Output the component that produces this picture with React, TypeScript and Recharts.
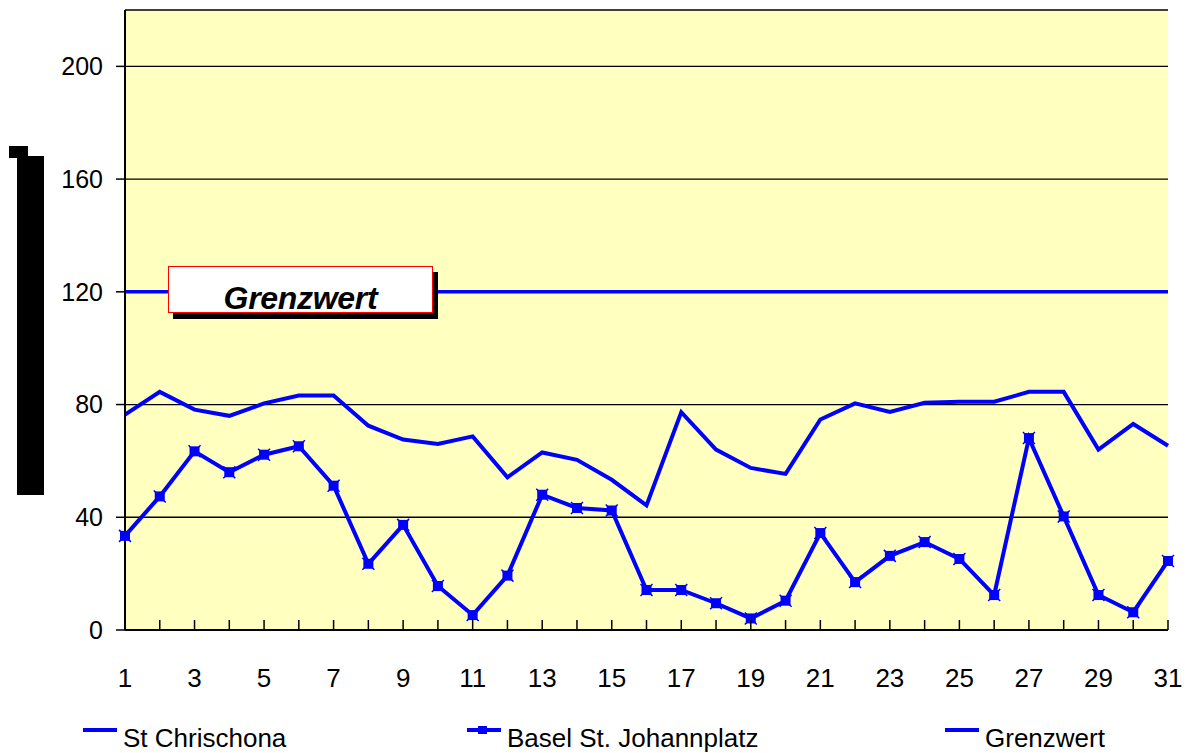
import React from "react";
import { LineChart, Line, XAxis, YAxis, CartesianGrid, ReferenceLine } from "recharts";

const days = [1, 2, 3, 4, 5, 6, 7, 8, 9, 10, 11, 12, 13, 14, 15, 16, 17, 18, 19, 20, 21, 22, 23, 24, 25, 26, 27, 28, 29, 30, 31];
const chrischona = [76.4, 84.5, 78.2, 76, 80.4, 83.2, 83.2, 72.5, 67.6, 66, 68.7, 54.2, 63, 60.4, 53.3, 44.2, 77.3, 64, 57.5, 55.4, 74.7, 80.4, 77.4, 80.6, 81, 81, 84.5, 84.5, 64, 73.1, 65.4];
const johannplatz = [33.4, 47.4, 63.4, 56, 62.2, 65.2, 51.2, 23.5, 37.3, 15.6, 5.3, 19.3, 48, 43.3, 42.4, 14.2, 14.2, 9.5, 4.1, 10.4, 34.4, 17, 26.3, 31.2, 25.2, 12.4, 68.1, 40.3, 12.4, 6.3, 24.5];
const grenzwert = 120;
const yTicks = [0, 40, 80, 120, 160, 200];
const legendItems = ["St Chrischona", "Basel St. Johannplatz", "Grenzwert"];

const data = days.map((d, i) => ({ day: d, chrischona: chrischona[i], johann: johannplatz[i] }));

const BLUE = "#0000FF";
const FONT = "'Liberation Sans', Arial, sans-serif";

const XTick = (props: any) => {
    const { x, y, payload } = props;
    const label = payload.value % 2 === 1 ? String(payload.value) : "";
    return (
        <g>
            <line x1={x} x2={x} y1={y} y2={y - 10} stroke="#000" strokeWidth={1.5} />
            {label && (
                <text x={x} y={y + 57} textAnchor="middle" fontSize={26} fontFamily={FONT} fill="#000">
                    {label}
                </text>
            )}
        </g>
    );
};

const StarDot = (props: any) => {
    const { cx, cy } = props;
    if (cx == null || cy == null) return null;
    return (
        <g>
            <rect x={cx - 5} y={cy - 5} width={10} height={10} fill={BLUE} />
            <line x1={cx - 6} y1={cy - 6} x2={cx + 6} y2={cy + 6} stroke={BLUE} strokeWidth={1.5} />
            <line x1={cx - 6} y1={cy + 6} x2={cx + 6} y2={cy - 6} stroke={BLUE} strokeWidth={1.5} />
        </g>
    );
};

const legendLeft = [83, 467, 945];

export default function App() {
    return (
        <div style={{ position: "absolute", left: 0, top: 0, width: 1188, height: 753, background: "#fff", fontFamily: FONT }}>
            <LineChart width={1188} height={753} data={data} margin={{ top: 10, right: 20, left: 0, bottom: 83 }}>
                <CartesianGrid vertical={false} stroke="#000" strokeWidth={1.3} fill="#FFFFC0" fillOpacity={1} />
                <XAxis
                    dataKey="day"
                    interval={0}
                    height={40}
                    tickSize={0}
                    tickMargin={0}
                    tick={<XTick />}
                    axisLine={{ stroke: "#000", strokeWidth: 2 }}
                    tickLine={false}
                />
                <YAxis
                    domain={[0, 220]}
                    ticks={yTicks}
                    width={125}
                    tickSize={9}
                    tickMargin={13}
                    axisLine={{ stroke: "#000", strokeWidth: 2 }}
                    tickLine={{ stroke: "#000", strokeWidth: 1.5 }}
                    tick={{ fill: "#000", fontSize: 25, fontFamily: FONT }}
                />
                <YAxis
                    yAxisId="r"
                    orientation="right"
                    width={0}
                    tick={false}
                    tickLine={false}
                    axisLine={{ stroke: "#999", strokeWidth: 2 }}
                />
                <ReferenceLine y={grenzwert} stroke={BLUE} strokeWidth={3.5} ifOverflow="extendDomain" />
                <Line
                    dataKey="chrischona"
                    stroke={BLUE}
                    strokeWidth={4}
                    dot={false}
                    isAnimationActive={false}
                />
                <Line
                    dataKey="johann"
                    stroke={BLUE}
                    strokeWidth={4}
                    dot={<StarDot />}
                    activeDot={false}
                    isAnimationActive={false}
                />
            </LineChart>

            {/* block on the left */}
            <div style={{ position: "absolute", left: 17, top: 156, width: 27, height: 339, background: "#000" }} />
            <div style={{ position: "absolute", left: 9, top: 146, width: 19, height: 12, background: "#000" }} />

            {/* Grenzwert label box */}
            <div
                style={{
                    position: "absolute",
                    left: 168,
                    top: 266,
                    width: 263,
                    height: 45,
                    background: "#fff",
                    border: "1.5px solid #FF0000",
                    boxShadow: "5px 6px 0 #000",
                    textAlign: "center",
                    fontWeight: "bold",
                    fontStyle: "italic",
                    fontSize: 32,
                    lineHeight: "62px",
                    letterSpacing: -0.3,
                    color: "#000",
                    whiteSpace: "nowrap",
                }}
            >
                Grenzwert
            </div>

            {/* legend */}
            {legendItems.map((name, i) => (
                <div key={name} style={{ position: "absolute", left: legendLeft[i], top: 723, height: 30 }}>
                    <div style={{ position: "absolute", left: 0, top: 5, width: 34, height: 3.5, background: BLUE }} />
                    {i === 1 && <div style={{ position: "absolute", left: 11, top: 3, width: 9, height: 8, background: BLUE }} />}
                    <span
                        style={{
                            position: "absolute",
                            left: 40,
                            top: 0,
                            fontSize: 26,
                            color: "#000",
                            lineHeight: "30px",
                            whiteSpace: "nowrap",
                        }}
                    >
                        {name}
                    </span>
                </div>
            ))}
        </div>
    );
}
